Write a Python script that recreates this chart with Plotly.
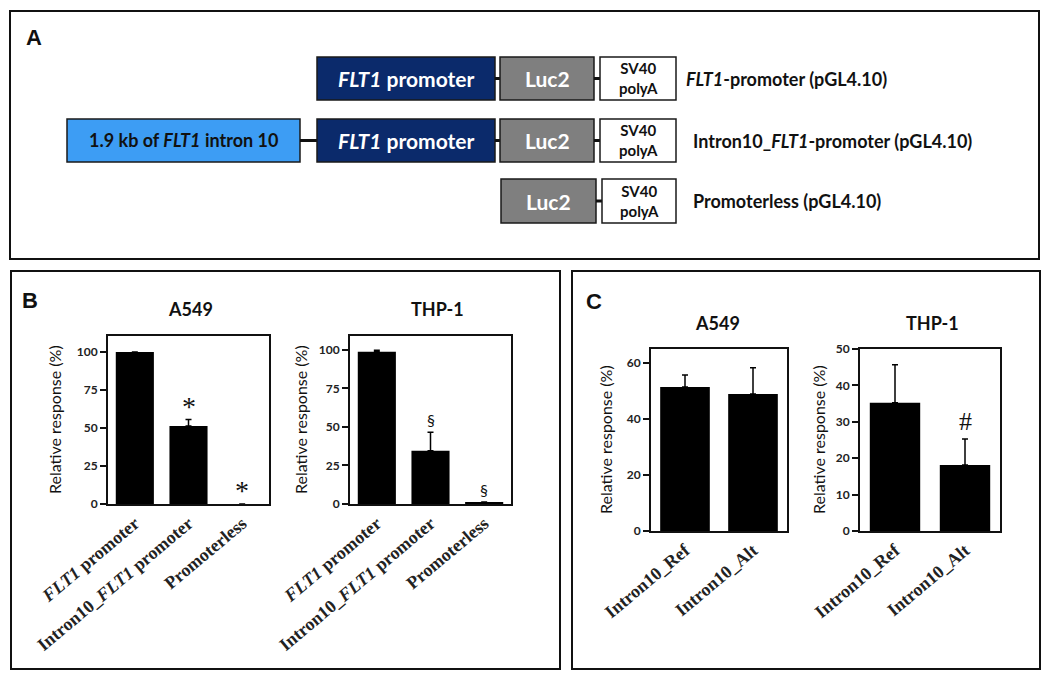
import plotly.graph_objects as go

# ---------------- data ----------------
b_categories = ["FLT1 promoter", "Intron10_FLT1 promoter", "Promoterless"]
b_ticktext = ["<i>FLT1</i> promoter", "Intron10_<i>FLT1</i> promoter", "Promoterless"]
b_a549_values = [100, 51.3, 0]
b_a549_errors = [0, 4.2, 0]
b_a549_marks = ["", "*", "*"]
b_thp1_values = [98.8, 34.6, 1.3]
b_thp1_errors = [1.0, 12.0, 0]
b_thp1_marks = ["", "§", "§"]

c_categories = ["Intron10_Ref", "Intron10_Alt"]
c_a549_values = [51.4, 48.9]
c_a549_errors = [4.3, 9.4]
c_a549_marks = ["", ""]
c_thp1_values = [35.2, 18.1]
c_thp1_errors = [10.5, 7.2]
c_thp1_marks = ["", "#"]

construct_labels = ["<i>FLT1</i>-promoter (pGL4.10)",
                    "Intron10_<i>FLT1</i>-promoter (pGL4.10)",
                    "Promoterless (pGL4.10)"]

W, H = 1050, 680
OFF = 8  # page body margin of the browser
def X(p): return (p - OFF) / W
def Y(p): return 1 - (p - OFF) / H

SANS = "Lato, 'Open Sans', sans-serif"
SERIF = "'Liberation Serif', 'Times New Roman', serif"

fig = go.Figure()
shapes = []
annotations = []

# ---------------- panel borders ----------------
for (x0, y0, x1, y1) in [(10, 11, 1039, 259), (11, 271, 560, 669), (572, 271, 1040, 669)]:
    shapes.append(dict(type="rect", xref="paper", yref="paper",
                       x0=X(x0), x1=X(x1), y0=Y(y1), y1=Y(y0),
                       line=dict(color="#111", width=2), fillcolor="rgba(0,0,0,0)"))

for txt, (px, py) in [("A", (34, 38)), ("B", (30, 300)), ("C", (594, 301))]:
    annotations.append(dict(text=f"<b>{txt}</b>", x=X(px), y=Y(py), xref="paper", yref="paper",
                            showarrow=False, xanchor="center", yanchor="middle",
                            font=dict(family="'Liberation Sans', Arial, sans-serif", size=22, color="#111")))

# ---------------- panel A diagram ----------------
NAVY, GRAY, BLUE = "#0b2a6b", "#7f7f7f", "#3d9df4"

def box(x0, y0, x1, y1, fill, text, tcolor, size=20):
    shapes.append(dict(type="rect", xref="paper", yref="paper",
                       x0=X(x0), x1=X(x1), y0=Y(y1), y1=Y(y0),
                       line=dict(color="#1a1a1a", width=1.5), fillcolor=fill))
    if text is not None:
        annotations.append(dict(text=text, x=X((x0 + x1) / 2), y=Y((y0 + y1) / 2),
                                xref="paper", yref="paper", showarrow=False,
                                xanchor="center", yanchor="middle",
                                font=dict(family=SANS, size=size, color=tcolor, weight="bold")))

def sv40(x0, y0, x1, y1):
    box(x0, y0, x1, y1, "white", None, "#111")
    cx = (x0 + x1) / 2
    cy = (y0 + y1) / 2
    annotations.append(dict(text="SV40<br>polyA", x=X(cx), y=Y(cy), xref="paper", yref="paper",
                            showarrow=False, xanchor="center", yanchor="middle",
                            font=dict(family=SANS, size=15, color="#111", weight="bold")))

def link(xa, xb, yc):
    shapes.append(dict(type="line", xref="paper", yref="paper",
                       x0=X(xa), x1=X(xb), y0=Y(yc), y1=Y(yc),
                       line=dict(color="#111", width=3)))

rows = [(57, 100), (119, 162), (179, 223)]
# row 1
r0, r1 = rows[0]; rc = (r0 + r1) / 2
box(317, r0, 495, r1, NAVY, "<i>FLT1</i> promoter", "white", size=21)
link(495, 500, rc)
box(500, r0, 594, r1, GRAY, "Luc2", "white", size=21)
link(594, 600, rc)
sv40(600, r0, 676, r1)
# row 2
r0, r1 = rows[1]; rc = (r0 + r1) / 2
box(67, r0, 300, r1, BLUE, "1.9 kb of <i>FLT1</i> intron 10", "#111", size=18)
link(300, 317, rc)
box(317, r0, 495, r1, NAVY, "<i>FLT1</i> promoter", "white", size=21)
link(495, 500, rc)
box(500, r0, 594, r1, GRAY, "Luc2", "white", size=21)
link(594, 600, rc)
sv40(600, r0, 676, r1)
# row 3
r0, r1 = rows[2]; rc = (r0 + r1) / 2
box(501, r0, 596, r1, GRAY, "Luc2", "white", size=21)
link(596, 602, rc)
sv40(602, r0, 676, r1)

for lab, (px, py) in zip(construct_labels, [(684, 79), (691, 141), (691, 201)]):
    annotations.append(dict(text=lab, x=X(px), y=Y(py), xref="paper", yref="paper",
                            showarrow=False, xanchor="left", yanchor="middle",
                            font=dict(family=SANS, size=18, color="#111", weight="bold")))

# ---------------- bar charts ----------------
panels = [
    dict(ax="", cats=b_categories, tt=b_ticktext, vals=b_a549_values, errs=b_a549_errors,
         marks=b_a549_marks, mfont=(SERIF, 28), xd=(108, 269), yd=(336, 504), yr=[0, 110.5],
         ticks=[0, 25, 50, 75, 100], width=0.71, title="A549", tpos=(190, 309), ytx=55),
    dict(ax="2", cats=b_categories, tt=b_ticktext, vals=b_thp1_values, errs=b_thp1_errors,
         marks=b_thp1_marks, mfont=(SANS, 16), xd=(350, 511), yd=(336, 504), yr=[0, 109],
         ticks=[0, 25, 50, 75, 100], width=0.71, title="THP-1", tpos=(437, 309), ytx=301),
    dict(ax="3", cats=c_categories, tt=c_categories, vals=c_a549_values, errs=c_a549_errors,
         marks=c_a549_marks, mfont=(SERIF, 26), xd=(651, 787), yd=(349, 531), yr=[0, 65],
         ticks=[0, 20, 40, 60], width=0.73, title="A549", tpos=(717, 323), ytx=605),
    dict(ax="4", cats=c_categories, tt=c_categories, vals=c_thp1_values, errs=c_thp1_errors,
         marks=c_thp1_marks, mfont=(SERIF, 26), xd=(860, 1000), yd=(349, 531), yr=[0, 50],
         ticks=[0, 10, 20, 30, 40, 50], width=0.72, title="THP-1", tpos=(932, 323), ytx=818),
]

layout_axes = {}
for p in panels:
    a = p["ax"]
    fig.add_trace(go.Bar(
        x=p["cats"], y=p["vals"], width=p["width"],
        marker=dict(color="black", line=dict(width=0)),
        error_y=dict(type="data", symmetric=False, array=p["errs"],
                     arrayminus=[0] * len(p["errs"]), color="black", thickness=1.5, width=3),
        xaxis="x" + a, yaxis="y" + a, showlegend=False, hoverinfo="skip"))
    layout_axes["xaxis" + a] = dict(
        domain=[X(p["xd"][0]), X(p["xd"][1])], anchor="y" + a, automargin=False,
        type="category", categoryorder="array", categoryarray=p["cats"],
        tickmode="array", tickvals=p["cats"], ticktext=p["tt"], tickangle=-40,
        tickfont=dict(family=SERIF, size=18, color="#222", weight="bold"),
        showline=True, mirror=True, linecolor="#111", linewidth=1.8,
        ticks="", showgrid=False, zeroline=False, fixedrange=True)
    layout_axes["yaxis" + a] = dict(
        domain=[Y(p["yd"][1]), Y(p["yd"][0])], anchor="x" + a, range=p["yr"], automargin=False,
        tickmode="array", tickvals=p["ticks"],
        tickfont=dict(family=SANS, size=12, color="#222", weight="bold"),
        ticks="outside", ticklen=6, tickwidth=1.5, tickcolor="#111",
        showline=True, mirror=True, linecolor="#111", linewidth=1.8,
        showgrid=False, zeroline=False, fixedrange=True)
    annotations.append(dict(text=p["title"], x=X(p["tpos"][0]), y=Y(p["tpos"][1]),
                            xref="paper", yref="paper", showarrow=False,
                            xanchor="center", yanchor="middle",
                            font=dict(family=SANS, size=18, color="#111", weight="bold")))
    annotations.append(dict(text="Relative response (%)", x=X(p["ytx"]),
                            y=Y((p["yd"][0] + p["yd"][1]) / 2),
                            xref="paper", yref="paper", showarrow=False, textangle=-90,
                            xanchor="center", yanchor="middle",
                            font=dict(family=SANS, size=16, color="#111")))
    for c, v, e, m in zip(p["cats"], p["vals"], p["errs"], p["marks"]):
        if m:
            annotations.append(dict(text=m, x=c, y=v + e, xref="x" + a, yref="y" + a,
                                    showarrow=False, xanchor="center", yanchor="bottom",
                                    yshift=-4 if m == "*" else 1,
                                    font=dict(family=p["mfont"][0], size=p["mfont"][1], color="#111")))

fig.update_layout(
    width=W, height=H, margin=dict(l=0, r=0, t=0, b=0, autoexpand=False),
    paper_bgcolor="white", plot_bgcolor="white",
    shapes=shapes, annotations=annotations, bargap=0.3,
    **layout_axes)

fig.write_html("out.html")
